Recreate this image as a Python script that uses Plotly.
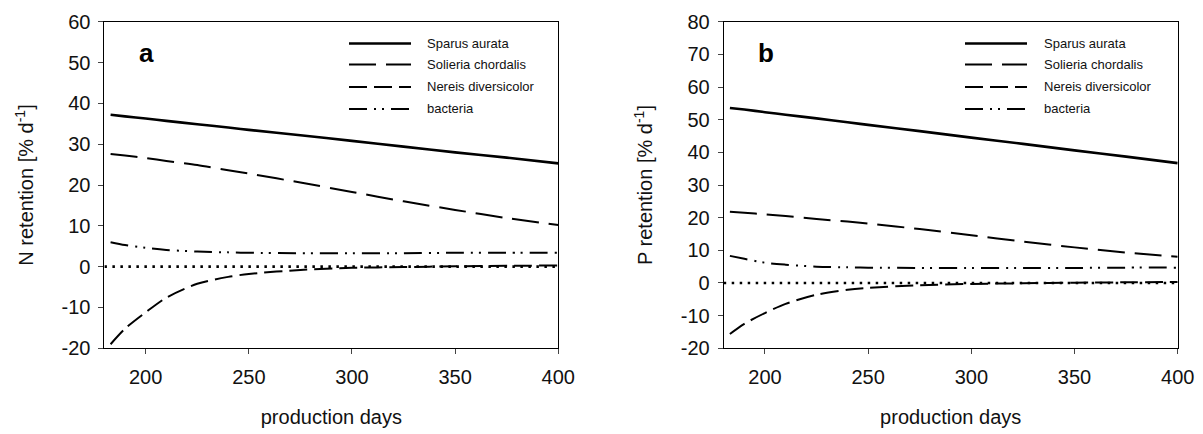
import plotly.graph_objects as go

W, H = 1203, 434

# ---------------- data ----------------
days = [183, 190, 200, 210, 225, 240, 250, 275, 300, 325, 350, 375, 400]

series_names = ["Sparus aurata", "Solieria chordalis", "Nereis diversicolor", "bacteria"]

# panel a : N retention [% d-1]
n_sparus = [37.2, 36.8, 36.3, 35.7, 34.9, 34.1, 33.5, 32.2, 30.8, 29.4, 28.0, 26.7, 25.3]
n_solieria = [27.6, 27.2, 26.6, 25.9, 24.9, 23.6, 22.8, 20.6, 18.3, 16.0, 13.9, 11.9, 10.2]
n_nereis = [-19.0, -15.2, -11.2, -7.6, -4.2, -2.5, -1.8, -0.8, -0.3, -0.1, 0.1, 0.2, 0.3]
n_bacteria = [6.0, 5.3, 4.6, 4.1, 3.7, 3.5, 3.4, 3.3, 3.3, 3.3, 3.4, 3.4, 3.4]

# panel b : P retention [% d-1]
p_sparus = [53.6, 53.1, 52.3, 51.5, 50.4, 49.2, 48.4, 46.5, 44.5, 42.6, 40.6, 38.7, 36.7]
p_solieria = [21.8, 21.5, 21.0, 20.5, 19.6, 18.8, 18.2, 16.5, 14.6, 12.7, 10.9, 9.3, 8.0]
p_nereis = [-15.6, -12.5, -9.2, -6.4, -3.6, -2.1, -1.5, -0.7, -0.3, -0.1, 0.1, 0.2, 0.3]
p_bacteria = [8.3, 7.4, 6.2, 5.6, 5.0, 4.8, 4.7, 4.6, 4.6, 4.6, 4.6, 4.7, 4.7]

zero_x = [180, 400]
zero_y = [0, 0]

x_ticks = [200, 250, 300, 350, 400]
x_tick_labels = ["200", "250", "300", "350", "400"]
n_ticks = [-20, -10, 0, 10, 20, 30, 40, 50, 60]
n_tick_labels = ["-20", "-10", "0", "10", "20", "30", "40", "50", "60"]
p_ticks = [-20, -10, 0, 10, 20, 30, 40, 50, 60, 70, 80]
p_tick_labels = ["-20", "-10", "0", "10", "20", "30", "40", "50", "60", "70", "80"]

x_title = "production days"
n_title = "N retention [% d<sup>-1</sup>]"
p_title = "P retention [% d<sup>-1</sup>]"

# ---------------- styles ----------------
FONT = "Liberation Sans, Arial, sans-serif"
dashes = ["solid", "27px,10px", "18px,7px", "18px,7px,2px,6px,2px,7px"]
widths = [2.6, 2.0, 2.0, 2.0]
INK = "#000000"


def px(x):
    return x / W


def py(y):
    return 1 - y / H


fig = go.Figure()

panels = [
    dict(xa="x", ya="y", vals=[n_sparus, n_solieria, n_nereis, n_bacteria],
         dom=(104.4, 558.3), yr=[-20, 60], yt=n_ticks, ytl=n_tick_labels, letter="a",
         ytitle=n_title, leg_x=(349, 411, 425)),
    dict(xa="x2", ya="y2", vals=[p_sparus, p_solieria, p_nereis, p_bacteria],
         dom=(723.7, 1177.7), yr=[-20, 80], yt=p_ticks, ytl=p_tick_labels, letter="b",
         ytitle=p_title, leg_x=(965, 1027, 1042)),
]

top_px, bot_px = 21.7, 348.3
leg_rows = [43.5, 64.5, 87.0, 109.0]

for i, p in enumerate(panels):
    # zero reference line (dotted)
    fig.add_trace(go.Scatter(x=zero_x, y=zero_y, mode="lines", xaxis=p["xa"], yaxis=p["ya"],
                             line=dict(color=INK, width=2.6, dash="2.5px,5.5px"),
                             showlegend=False, hoverinfo="skip"))
    for name, vals, dash, w in zip(series_names, p["vals"], dashes, widths):
        fig.add_trace(go.Scatter(x=days, y=vals, mode="lines", name=name,
                                 xaxis=p["xa"], yaxis=p["ya"],
                                 line=dict(color=INK, width=w, dash=dash, shape="spline", smoothing=0.8),
                                 showlegend=False))
    # manual legend
    x0, x1, xt = p["leg_x"]
    for name, dash, w, ry in zip(series_names, dashes, widths, leg_rows):
        fig.add_shape(type="line", xref="paper", yref="paper",
                      x0=px(x0), x1=px(x1), y0=py(ry), y1=py(ry),
                      line=dict(color=INK, width=w, dash=dash))
        fig.add_annotation(xref="paper", yref="paper", x=px(xt), y=py(ry),
                           xanchor="left", yanchor="middle", showarrow=False,
                           text=name, font=dict(family=FONT, size=13, color="#111"))
    # panel letter
    fig.add_annotation(xref="paper", yref="paper", x=px(p["dom"][0] + 42), y=py(52.5),
                       xanchor="center", yanchor="middle", showarrow=False,
                       text="<b>%s</b>" % p["letter"], font=dict(family=FONT, size=26, color=INK))

    axis_common = dict(showline=True, linecolor=INK, linewidth=1, mirror=True,
                       ticks="outside", ticklen=5, tickwidth=1, tickcolor="#444",
                       showgrid=False, zeroline=False, automargin=False,
                       tickfont=dict(family=FONT, size=20, color="#111"))
    xkey = "xaxis" if i == 0 else "xaxis2"
    ykey = "yaxis" if i == 0 else "yaxis2"
    fig.update_layout(**{
        xkey: dict(domain=[px(p["dom"][0]), px(p["dom"][1])], range=[180, 400],
                   tickvals=x_ticks, ticktext=x_tick_labels, anchor=p["ya"],
                   ticklabelstandoff=6,
                   title=dict(text=x_title, standoff=22, font=dict(family=FONT, size=20, color="#111")),
                   **axis_common),
        ykey: dict(domain=[py(bot_px), py(top_px)], range=p["yr"],
                   tickvals=p["yt"], ticktext=p["ytl"], anchor=p["xa"],
                   ticklabelstandoff=4,
                   title=dict(text=p["ytitle"], standoff=22, font=dict(family=FONT, size=20, color="#111")),
                   **axis_common),
    })

fig.update_layout(width=W, height=H, margin=dict(l=0, r=0, t=0, b=0, autoexpand=False),
                  paper_bgcolor="white", plot_bgcolor="white", showlegend=False,
                  font=dict(family=FONT, color="#111"))

fig.write_html("out.html")
